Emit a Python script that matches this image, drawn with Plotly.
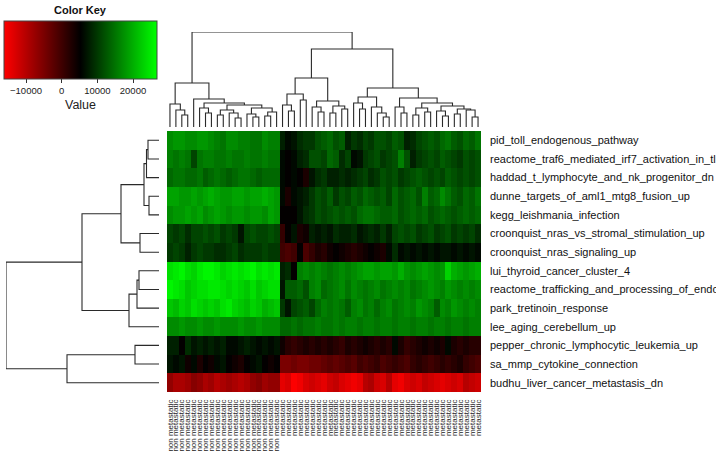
import plotly.graph_objects as go
import numpy as np

W, H = 716, 459

row_labels = [
    "pid_toll_endogenous_pathway",
    "reactome_traf6_mediated_irf7_activation_in_tlr7_8_or_9_signaling",
    "haddad_t_lymphocyte_and_nk_progenitor_dn",
    "dunne_targets_of_aml1_mtg8_fusion_up",
    "kegg_leishmania_infection",
    "croonquist_nras_vs_stromal_stimulation_up",
    "croonquist_nras_signaling_up",
    "lui_thyroid_cancer_cluster_4",
    "reactome_trafficking_and_processing_of_endosomal_tlr",
    "park_tretinoin_response",
    "lee_aging_cerebellum_up",
    "pepper_chronic_lymphocytic_leukemia_up",
    "sa_mmp_cytokine_connection",
    "budhu_liver_cancer_metastasis_dn",
]
col_labels = ["non metastatic"] * 19 + ["metastatic"] * 34

# values in thousands: 19 non-metastatic columns, then 34 metastatic columns
r1_non = [17,18,18,17,17,18,18,17,16,15,17,17,16,16,15,15,17,16,16]
r1_met = [8,6,7,9,10,10,12,13,14,12,13,8,10,9,11,10,12,12,11,13,12,8,9,11,12,13,12,14,15,13,12,14,13,15]
r2_non = [16,15,16,15,11,15,16,16,15,15,16,15,15,16,15,15,16,15,15]
r2_met = [6,5,6,8,9,12,12,11,14,13,9,11,6,7,10,11,12,10,11,12,16,12,8,10,11,12,11,13,12,11,10,12,11,12]
r3_non = [14,15,15,14,14,15,13,14,15,14,13,14,15,15,14,13,14,14,14]
r3_met = [6,5,6,5,3,7,9,10,8,8,9,8,9,10,11,9,10,12,11,12,10,11,12,13,12,11,12,11,13,12,11,12,11,12]
r4_non = [19,19,18,18,19,18,19,20,19,18,18,19,19,18,19,19,20,19,18]
r4_met = [6,3,6,7,8,10,12,11,13,10,12,11,13,12,14,13,12,13,11,14,12,13,14,12,16,13,14,17,15,13,12,14,13,15]
r5_non = [17,18,18,19,18,19,17,18,19,18,17,18,18,17,18,18,17,19,18]
r5_met = [5,5,5,7,9,10,12,11,12,13,12,13,12,14,15,15,14,13,13,14,12,13,14,13,14,12,13,14,13,12,13,14,13,14]
r6_non = [11,10,11,9,11,11,12,11,12,10,11,10,7,11,12,11,11,12,11]
r6_met = [1,5,7,3,4,8,7,8,7,9,8,8,9,7,8,9,8,10,8,11,12,11,12,10,11,12,10,11,12,10,11,10,11,9]
r7_non = [10,11,10,8,10,11,10,10,9,9,10,11,9,10,10,10,11,10,10]
r7_met = [0,-1,0,5,-1,1,3,2,4,5,4,3,2,3,4,5,4,3,6,9,6,7,6,7,6,7,6,7,7,6,7,6,7,6]
r8_non = [24,25,26,24,23,25,26,26,25,23,24,25,24,25,26,24,25,24,25]
r8_met = [8,9,5,16,17,16,17,16,15,16,17,16,17,18,19,19,18,19,19,18,20,18,17,18,19,18,17,18,23,20,19,18,19,20]
r9_non = [26,25,24,22,23,24,24,25,25,24,23,24,23,22,24,22,23,24,24]
r9_met = [7,13,13,14,12,16,17,14,15,16,17,15,17,16,15,16,17,15,16,17,16,17,15,16,17,18,17,16,18,17,16,17,16,17]
r10_non = [22,21,23,22,24,23,22,23,22,24,25,23,22,21,23,22,20,21,22]
r10_met = [10,7,11,12,13,11,14,16,15,16,15,13,16,17,15,16,14,16,17,15,16,17,16,18,17,16,13,17,16,18,17,16,17,16]
r11_non = [17,17,18,17,17,18,17,17,18,17,17,17,18,17,17,18,17,17,17]
r11_met = [14,14,15,14,15,15,16,15,15,16,15,16,16,15,16,16,15,16,16,15,16,16,15,16,16,15,16,16,15,16,16,15,16,16]
r12_non = [8,8,5,9,7,8,7,8,7,8,6,6,7,8,7,6,7,6,7]
r12_met = [4,2,1,2,3,2,3,2,3,2,1,3,2,3,4,3,2,3,2,6,3,1,2,3,4,3,4,3,6,3,2,3,2,2]
r13_non = [7,6,7,4,6,3,5,4,6,7,5,4,3,5,6,7,5,4,5]
r13_met = [-5,-5,-4,-5,-5,-4,-4,-3,-2,-3,-2,-1,-2,0,-1,0,1,-1,0,1,0,-1,1,2,1,0,1,2,1,2,3,1,0,-1]
r14_non = [-7,-9,-9,-8,-6,-7,-9,-8,-10,-9,-8,-9,-10,-9,-7,-6,-8,-7,-7]
r14_met = [-14,-13,-16,-15,-13,-12,-13,-14,-12,-11,-13,-14,-15,-14,-10,-9,-12,-13,-10,-14,-15,-13,-12,-13,-11,-12,-13,-14,-13,-12,-13,-10,-11,-12]

key_ticks = [-10000, 0, 10000, 20000]
zmin, zmax = -16170, 26730

# dendrograms: (height, left, right), leaves = column / row index
col_tree = (95,
    (44,
        (23, 0, (17, 1, (12, 2, 3))),
        (28, 4,
            (24,
                (19, 5, (14, 6, 7)),
                (22,
                    (17, (12, 8, 9), (14, 10, (9, 11, 12))),
                    (19, (13, 13, (10, 14, 15)), (15, (11, 16, 17), 18)))))),
    (78,
        (49,
            (33, (22, 19, (16, 20, 21)), (27, 22, 23)),
            (26, (20, 24, (15, 25, 26)), (21, (14, 27, 28), (18, 29, 30)))),
        (39,
            (30, (24, 31, (18, 32, 33)), (20, 34, (14, 35, (10, 36, 37)))),
            (29, (20, 38, (14, 39, 40)),
                (24, (19, (12, 41, 42), (15, 43, 44)),
                    (21, (16, 45, (11, 46, 47)),
                        (18, (13, 48, 49), (17, 50, (10, 51, 52)))))))))

row_tree = (153,
    (77,
        (38,
            (15, (12.5, (11, 0, 1), 2), (10, 3, 4)),
            (19, 5, 6)),
        (30, (22, (20, 7, 8), 9), 10)),
    (92, (24, 11, 12), 13))

rows_non = [r1_non, r2_non, r3_non, r4_non, r5_non, r6_non, r7_non,
            r8_non, r9_non, r10_non, r11_non, r12_non, r13_non, r14_non]
rows_met = [r1_met, r2_met, r3_met, r4_met, r5_met, r6_met, r7_met,
            r8_met, r9_met, r10_met, r11_met, r12_met, r13_met, r14_met]
z = np.array([a + b for a, b in zip(rows_non, rows_met)], dtype=float) * 1000
ncol = z.shape[1]
nrow = z.shape[0]


def walk(node, pos, hgt):
    if not isinstance(node, tuple):
        return float(node), 0.0
    h, a, b = node
    pa, ha = walk(a, pos, hgt)
    pb, hb = walk(b, pos, hgt)
    pos += [pa, pa, pb, pb, None]
    hgt += [ha, h, h, hb, None]
    return (pa + pb) / 2, h


cp, ch = [], []
walk(col_tree, cp, ch)
rp, rh = [], []
walk(row_tree, rp, rh)

font_fam = "Arial, Liberation Sans, Helvetica, sans-serif"
line_col = "#2a2a2a"

fig = go.Figure()
fig.add_trace(go.Heatmap(
    z=z, x=list(range(ncol)), y=list(range(nrow)),
    colorscale=[[0, "#FF0000"], [0.5, "#000000"], [1, "#00FF00"]],
    zmin=zmin, zmax=zmax,
    xgap=0, ygap=0,
    colorbar=dict(
        orientation="h", x=4 / W, xanchor="left", y=1 - 21 / H, yanchor="top",
        len=153, lenmode="pixels", thickness=58, thicknessmode="pixels",
        xpad=0, ypad=0, outlinewidth=1, outlinecolor="#444",
        ticks="outside", ticklen=4, tickcolor="#333",
        tickvals=key_ticks, tickformat="d",
        tickfont=dict(size=9.5, family=font_fam, color="#222"),
        title=dict(text="Value", side="bottom", font=dict(size=12.5, family=font_fam, color="#222")),
    ),
    xaxis="x", yaxis="y", hoverinfo="skip",
))
fig.add_trace(go.Scatter(x=cp, y=ch, mode="lines", line=dict(color=line_col, width=1.1),
                         xaxis="x2", yaxis="y2", showlegend=False, hoverinfo="skip"))
fig.add_trace(go.Scatter(x=rh, y=rp, mode="lines", line=dict(color=line_col, width=1.1),
                         xaxis="x3", yaxis="y3", showlegend=False, hoverinfo="skip"))

hm_x = [167 / W, 481 / W]
hm_y = [1 - 392 / H, 1 - 131 / H]

fig.update_layout(
    width=W, height=H,
    margin=dict(l=0, r=0, t=0, b=0),
    paper_bgcolor="white", plot_bgcolor="white",
    showlegend=False,
    xaxis=dict(domain=hm_x, range=[-0.5, ncol - 0.5], anchor="y",
               tickvals=list(range(ncol)), ticktext=col_labels, tickangle=-90,
               tickfont=dict(size=8, family=font_fam, color="#222"),
               ticks="", showgrid=False, zeroline=False, showline=False,
               automargin=False, ticklabelstandoff=5),
    yaxis=dict(domain=hm_y, range=[nrow - 0.5, -0.5], anchor="x", side="right",
               tickvals=list(range(nrow)), ticktext=row_labels,
               tickfont=dict(size=11, family=font_fam, color="#111"),
               ticks="", showgrid=False, zeroline=False, showline=False,
               automargin=False, ticklabelstandoff=8),
    xaxis2=dict(domain=hm_x, range=[-0.5, ncol - 0.5], anchor="y2", visible=False),
    yaxis2=dict(domain=[1 - 127 / H, 1 - 32 / H], range=[0, 95], anchor="x2", visible=False),
    xaxis3=dict(domain=[6 / W, 159 / W], range=[153, 0], anchor="y3", visible=False),
    yaxis3=dict(domain=hm_y, range=[nrow - 0.5, -0.5], anchor="x3", visible=False),
    annotations=[dict(text="<b>Color Key</b>", x=80 / W, y=1 - 10 / H, xref="paper", yref="paper",
                      xanchor="center", yanchor="middle", showarrow=False,
                      font=dict(size=11, family=font_fam, color="#111"))],
)

fig.write_html(
    "out.html",
    config={"displayModeBar": False},
    post_script="document.body.style.margin='0px';document.body.style.padding='0px';"
                "document.body.style.overflow='hidden';",
)
